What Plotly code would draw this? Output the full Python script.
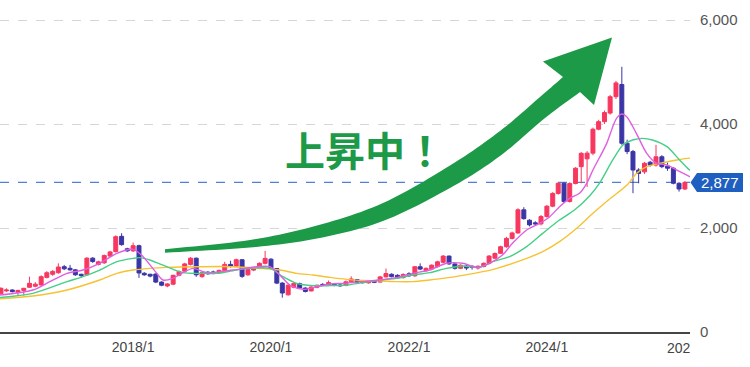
import numpy as np
import pandas as pd
import plotly.graph_objects as go

# ---------------- data (monthly candles, 2016-02 .. 2026-01) ----------------
months = pd.date_range("2016-02-01", "2026-01-01", freq="MS")

open_ = [735, 790, 808, 765, 800, 860, 880, 905, 1050, 1110, 1140, 1256, 1225, 1195, 1110, 1100, 1420, 1300, 1330, 1460,
         1545, 1840, 1600, 1560, 1660, 1130, 1110, 1115, 960, 885, 920, 1090, 1170, 1300, 1420, 1065, 1150, 1155, 1145, 1180,
         1300, 1265, 1390, 1100, 1190, 1225, 1320, 1400, 1220, 940, 715, 860, 930, 845, 790, 860, 915, 900, 920, 905,
         895, 965, 1010, 970, 945, 985, 960, 1060, 1110, 1090, 1045, 1120, 1080, 1255, 1180, 1210, 1260, 1340, 1460, 1310,
         1225, 1270, 1265, 1230, 1260, 1320, 1420, 1513, 1640, 1800, 1905, 2350, 2150, 2100, 2080, 2220, 2420, 2665, 2860, 2510,
         2855, 3180, 3330, 3440, 3900, 4045, 4210, 4525, 4760, 3630, 3470, 3115, 3080, 3265, 3210, 3370, 3190, 3150, 2860, 2750]
high = [860, 840, 820, 810, 850, 1064, 960, 1090, 1170, 1190, 1320, 1290, 1290, 1210, 1120, 1440, 1440, 1370, 1490, 1560,
        1860, 1900, 1620, 1720, 1680, 1150, 1120, 1125, 975, 940, 1100, 1180, 1330, 1440, 1430, 1160, 1170, 1180, 1200, 1350,
        1370, 1410, 1400, 1230, 1250, 1340, 1560, 1420, 1230, 960, 920, 950, 950, 860, 880, 910, 940, 990, 940, 920,
        990, 1070, 1020, 985, 990, 1000, 1080, 1220, 1130, 1110, 1130, 1150, 1270, 1320, 1240, 1300, 1370, 1480, 1470, 1320,
        1300, 1290, 1280, 1280, 1340, 1480, 1530, 1660, 1830, 1930, 2380, 2400, 2170, 2130, 2250, 2440, 2690, 2880, 2880, 2880,
        3170, 3460, 3480, 3930, 4080, 4260, 4560, 4830, 5100, 3700, 3500, 3150, 3270, 3290, 3600, 3400, 3260, 3170, 2880, 2900]
low = [720, 770, 760, 690, 700, 850, 860, 890, 1030, 1080, 1120, 1190, 1180, 1080, 1050, 1090, 1330, 1280, 1310, 1440,
       1530, 1660, 1540, 1540, 1040, 1080, 1050, 940, 880, 860, 900, 1070, 1160, 1280, 1060, 1040, 1100, 1110, 1130, 1170,
       1240, 1250, 1040, 1080, 1170, 1210, 1300, 1200, 920, 660, 700, 840, 830, 760, 780, 840, 880, 890, 880, 870,
       880, 950, 940, 930, 930, 940, 950, 1050, 1050, 1020, 1030, 1060, 1060, 1190, 1160, 1190, 1240, 1320, 1290, 1200,
       1210, 1190, 1200, 1200, 1240, 1300, 1400, 1500, 1620, 1780, 1890, 2160, 2030, 2040, 2050, 2200, 2400, 2640, 2480, 2490,
       2840, 2860, 2790, 3400, 3880, 4000, 4180, 4480, 3600, 3420, 2670, 2860, 3040, 3180, 3180, 3150, 3100, 2840, 2700, 2730]
close = [840, 808, 776, 800, 840, 936, 920, 1064, 1140, 1165, 1250, 1215, 1195, 1100, 1085, 1420, 1355, 1350, 1470, 1540,
         1833, 1680, 1560, 1660, 1135, 1100, 1075, 960, 900, 925, 1090, 1165, 1310, 1420, 1100, 1140, 1120, 1140, 1185, 1300,
         1260, 1390, 1070, 1200, 1230, 1320, 1415, 1220, 940, 750, 900, 935, 845, 780, 865, 900, 895, 950, 895, 890,
         965, 1020, 960, 950, 975, 955, 1060, 1125, 1065, 1040, 1105, 1080, 1255, 1210, 1225, 1285, 1350, 1460, 1310, 1225,
         1285, 1230, 1245, 1265, 1320, 1460, 1510, 1640, 1800, 1905, 2350, 2180, 2060, 2080, 2220, 2420, 2665, 2860, 2510, 2855,
         3150, 3436, 3440, 3900, 4045, 4220, 4525, 4790, 3630, 3470, 3115, 3050, 3245, 3210, 3370, 3180, 3150, 2860, 2750, 2877]

# moving averages (short = pink, middle = green, long = yellow)
ma_short_dates = ["2016-01-01", "2016-07-19", "2016-10-17", "2017-01-16", "2017-04-10", "2017-07-08", "2017-10-07",
                  "2018-01-01", "2018-02-23", "2018-05-06", "2018-06-08", "2018-07-30", "2018-09-22", "2018-11-14",
                  "2019-01-27", "2019-06-13", "2019-10-18", "2019-12-26", "2020-02-17", "2020-04-10", "2020-06-18",
                  "2020-09-01", "2020-11-08", "2021-01-16", "2021-05-01", "2021-07-30", "2021-10-28", "2022-01-21",
                  "2022-04-20", "2022-07-19", "2022-10-12", "2022-12-25", "2023-03-03", "2023-05-11", "2023-07-03",
                  "2023-09-16", "2023-11-24", "2024-01-16", "2024-03-08", "2024-05-01", "2024-06-22", "2024-07-30",
                  "2024-09-01", "2024-11-13", "2024-12-15", "2025-01-04", "2025-02-01", "2025-02-27", "2025-04-19",
                  "2025-06-13", "2025-08-04", "2025-09-28", "2025-11-19", "2026-01-11", "2026-02-01"]
ma_short = [700, 808, 968, 1128, 1192, 1321, 1513, 1590, 1449, 1128, 1000, 1032, 1141, 1224, 1141, 1192, 1256, 1256,
            1096, 904, 821, 872, 923, 936, 968, 1000, 1051, 1128, 1192, 1321, 1321, 1244, 1321, 1481, 1705, 1962, 2090,
            2218, 2410, 2571, 2667, 2859, 3115, 3628, 3949, 4109, 4192, 4141, 3821, 3436, 3244, 3212, 3115, 3019, 2980]

ma_mid_dates = ["2016-01-01", "2016-07-19", "2017-01-16", "2017-04-10", "2017-07-08", "2017-10-07", "2018-01-01",
                "2018-02-07", "2018-03-30", "2018-06-28", "2018-09-22", "2018-12-20", "2019-03-19", "2019-06-13",
                "2019-09-11", "2019-12-26", "2020-03-04", "2020-05-16", "2020-08-10", "2020-11-08", "2021-02-07",
                "2021-05-01", "2021-07-30", "2021-10-28", "2022-01-21", "2022-04-20", "2022-07-19", "2022-10-12",
                "2023-01-11", "2023-03-19", "2023-06-18", "2023-09-16", "2023-12-10", "2024-03-08", "2024-05-28",
                "2024-08-15", "2024-10-06", "2024-12-15", "2025-02-07", "2025-03-30", "2025-05-22", "2025-07-13",
                "2025-09-28", "2025-12-04", "2026-01-16", "2026-02-01"]
ma_mid = [655, 744, 968, 1064, 1192, 1353, 1417, 1430, 1385, 1256, 1141, 1128, 1128, 1179, 1224, 1224, 1064, 936, 891,
          891, 904, 949, 1000, 1032, 1096, 1141, 1224, 1270, 1244, 1353, 1449, 1641, 1897, 2154, 2350, 2620, 2865, 3308,
          3596, 3692, 3724, 3692, 3564, 3308, 3147, 3100]

ma_long_dates = ["2016-01-01", "2016-07-19", "2017-01-16", "2017-07-08", "2017-10-07", "2018-01-01", "2018-03-30",
                 "2018-06-28", "2018-12-20", "2019-06-13", "2019-11-18", "2020-02-17", "2020-05-16", "2020-08-10",
                 "2020-11-08", "2021-02-07", "2021-05-01", "2021-07-30", "2021-10-28", "2022-01-21", "2022-04-20",
                 "2022-07-19", "2022-10-12", "2023-03-19", "2023-09-16", "2023-12-10", "2024-03-08", "2024-06-07",
                 "2024-09-01", "2024-11-22", "2025-02-27", "2025-04-20", "2025-06-13", "2025-08-20", "2025-11-19",
                 "2026-01-11", "2026-02-01"]
ma_long = [630, 692, 808, 1000, 1128, 1192, 1224, 1243, 1256, 1256, 1220, 1192, 1128, 1096, 1051, 1013, 990, 985, 968,
           968, 1000, 1040, 1090, 1200, 1417, 1545, 1737, 1994, 2282, 2538, 2820, 3051, 3179, 3244, 3308, 3340, 3345]

x_tick_dates = ["2018-01-01", "2020-01-01", "2022-01-01", "2024-01-01"]
x_tick_text = ["2018/1", "2020/1", "2022/1", "2024/1"]
clipped_tick_text = "202"
y_ticks = [0, 2000, 4000, 6000]
headline = "上昇中！"

# ---------------- styling ----------------
RED = "#f8375f"
BLUE = "#3a36a6"
PINK = "#e05fe0"
GREEN_MA = "#45cf86"
YELLOW = "#f6c232"
ARROW = "#1c9a48"
TAG = "#1f5fc0"

W_PLOT, H_PLOT = 690.0, 332.0
Y_MAX = 6385


def px(x, y):
    return x / W_PLOT, 1 - y / H_PLOT


fig = go.Figure()
fig.add_trace(go.Candlestick(
    x=months, open=open_, high=high, low=low, close=close,
    increasing=dict(line=dict(color=RED, width=1), fillcolor=RED),
    decreasing=dict(line=dict(color=BLUE, width=1), fillcolor=BLUE),
    whiskerwidth=0, hoverinfo="skip", showlegend=False))

for d, v, c in [(ma_long_dates, ma_long, YELLOW), (ma_mid_dates, ma_mid, GREEN_MA), (ma_short_dates, ma_short, PINK)]:
    fig.add_trace(go.Scatter(x=d, y=v, mode="lines", line=dict(color=c, width=1.4, shape="spline", smoothing=0.8),
                             hoverinfo="skip", showlegend=False))

# ---------------- big curved arrow (decoration, pixel geometry) ----------------
def catmull(pts, n=12):
    P = np.array(pts, float)
    P = np.vstack([2 * P[0] - P[1], P, 2 * P[-1] - P[-2]])
    out = []
    for i in range(1, len(P) - 2):
        p0, p1, p2, p3 = P[i - 1], P[i], P[i + 1], P[i + 2]
        for t in np.linspace(0, 1, n, endpoint=False):
            out.append(0.5 * (2 * p1 + (-p0 + p2) * t + (2 * p0 - 5 * p1 + 4 * p2 - p3) * t * t
                              + (-p0 + 3 * p1 - 3 * p2 + p3) * t ** 3))
    out.append(P[-2])
    return out


upper = [(165, 249.3), (250, 240), (317, 225.5), (383, 203), (450, 165.5), (500, 131), (540, 97), (563, 77)]
lower = [(165, 252.7), (250, 247.5), (317, 238.5), (383, 221), (450, 188), (500, 156), (545, 118), (580, 92)]
head = [(543, 61.5), (612, 37.5), (594, 105)]
up = catmull(upper)
lo = catmull(lower)[::-1]
pts = list(up) + head + list(lo)
path = "M " + " L ".join("{:.5f},{:.5f}".format(*px(p[0], p[1])) for p in pts) + " Z"
fig.add_shape(type="path", path=path, xref="paper", yref="paper", fillcolor=ARROW,
              line=dict(width=0), layer="above")

# last price dashed line + tag
last = close[-1]
fig.add_shape(type="line", xref="paper", yref="y", x0=0, x1=1, y0=last, y1=last,
              line=dict(color="#4f80d6", width=1.2, dash="dash"), layer="below")
ty = H_PLOT / Y_MAX  # px per value unit
tag_h = 9.5 / ty
tag_path = "M {:.5f},{} L {:.5f},{} L {:.5f},{} L {:.5f},{} L {:.5f},{} Z".format(
    690.5 / W_PLOT, last,
    697 / W_PLOT, last + tag_h,
    743 / W_PLOT, last + tag_h,
    743 / W_PLOT, last - tag_h,
    697 / W_PLOT, last - tag_h)
fig.add_shape(type="path", path=tag_path, xref="paper", yref="y", fillcolor=TAG, line=dict(width=0), layer="above")
fig.add_annotation(x=720 / W_PLOT, y=last, xref="paper", yref="y", text="{:,}".format(last), showarrow=False,
                   font=dict(family="Liberation Sans, Arial", size=15, color="white"), xanchor="center",
                   yanchor="middle")

# headline text
hx, hy = px(365, 149)
fig.add_annotation(x=hx, y=hy, xref="paper", yref="paper", text="<b>" + headline + "</b>", showarrow=False,
                   font=dict(family="Noto Sans CJK JP", size=40, color=ARROW), xanchor="center", yanchor="middle")

# clipped last x tick label
cx, cy = px(665, 348)
fig.add_annotation(x=cx, y=cy, xref="paper", yref="paper", text=clipped_tick_text, showarrow=False,
                   font=dict(family="Liberation Sans, Arial", size=14, color="#444"), xanchor="left",
                   yanchor="middle")

fig.update_layout(
    width=750, height=367, margin=dict(l=0, r=60, t=0, b=35),
    paper_bgcolor="white", plot_bgcolor="white", showlegend=False, boxgap=0.25, boxgroupgap=0,
    xaxis=dict(type="date", range=["2016-01-27", "2026-01-28"], rangeslider=dict(visible=False),
               tickvals=x_tick_dates, ticktext=x_tick_text, showgrid=False, zeroline=False,
               showline=True, linecolor="#444", linewidth=1.5, ticks="", ticklabelstandoff=2,
               tickfont=dict(family="Liberation Sans, Arial", size=14, color="#444")),
    yaxis=dict(side="right", range=[0, Y_MAX], tickvals=y_ticks, ticktext=["{:,}".format(v) for v in y_ticks],
               showgrid=True, gridcolor="#d6d6d6", griddash="dash", gridwidth=1, zeroline=False, ticks="",
               ticklabelstandoff=9, tickfont=dict(family="Liberation Sans, Arial", size=15, color="#555")),
)

fig.write_html("out.html", config={"displayModeBar": False, "staticPlot": True},
               post_script="document.body.style.margin='0';document.body.style.overflow='hidden';")
